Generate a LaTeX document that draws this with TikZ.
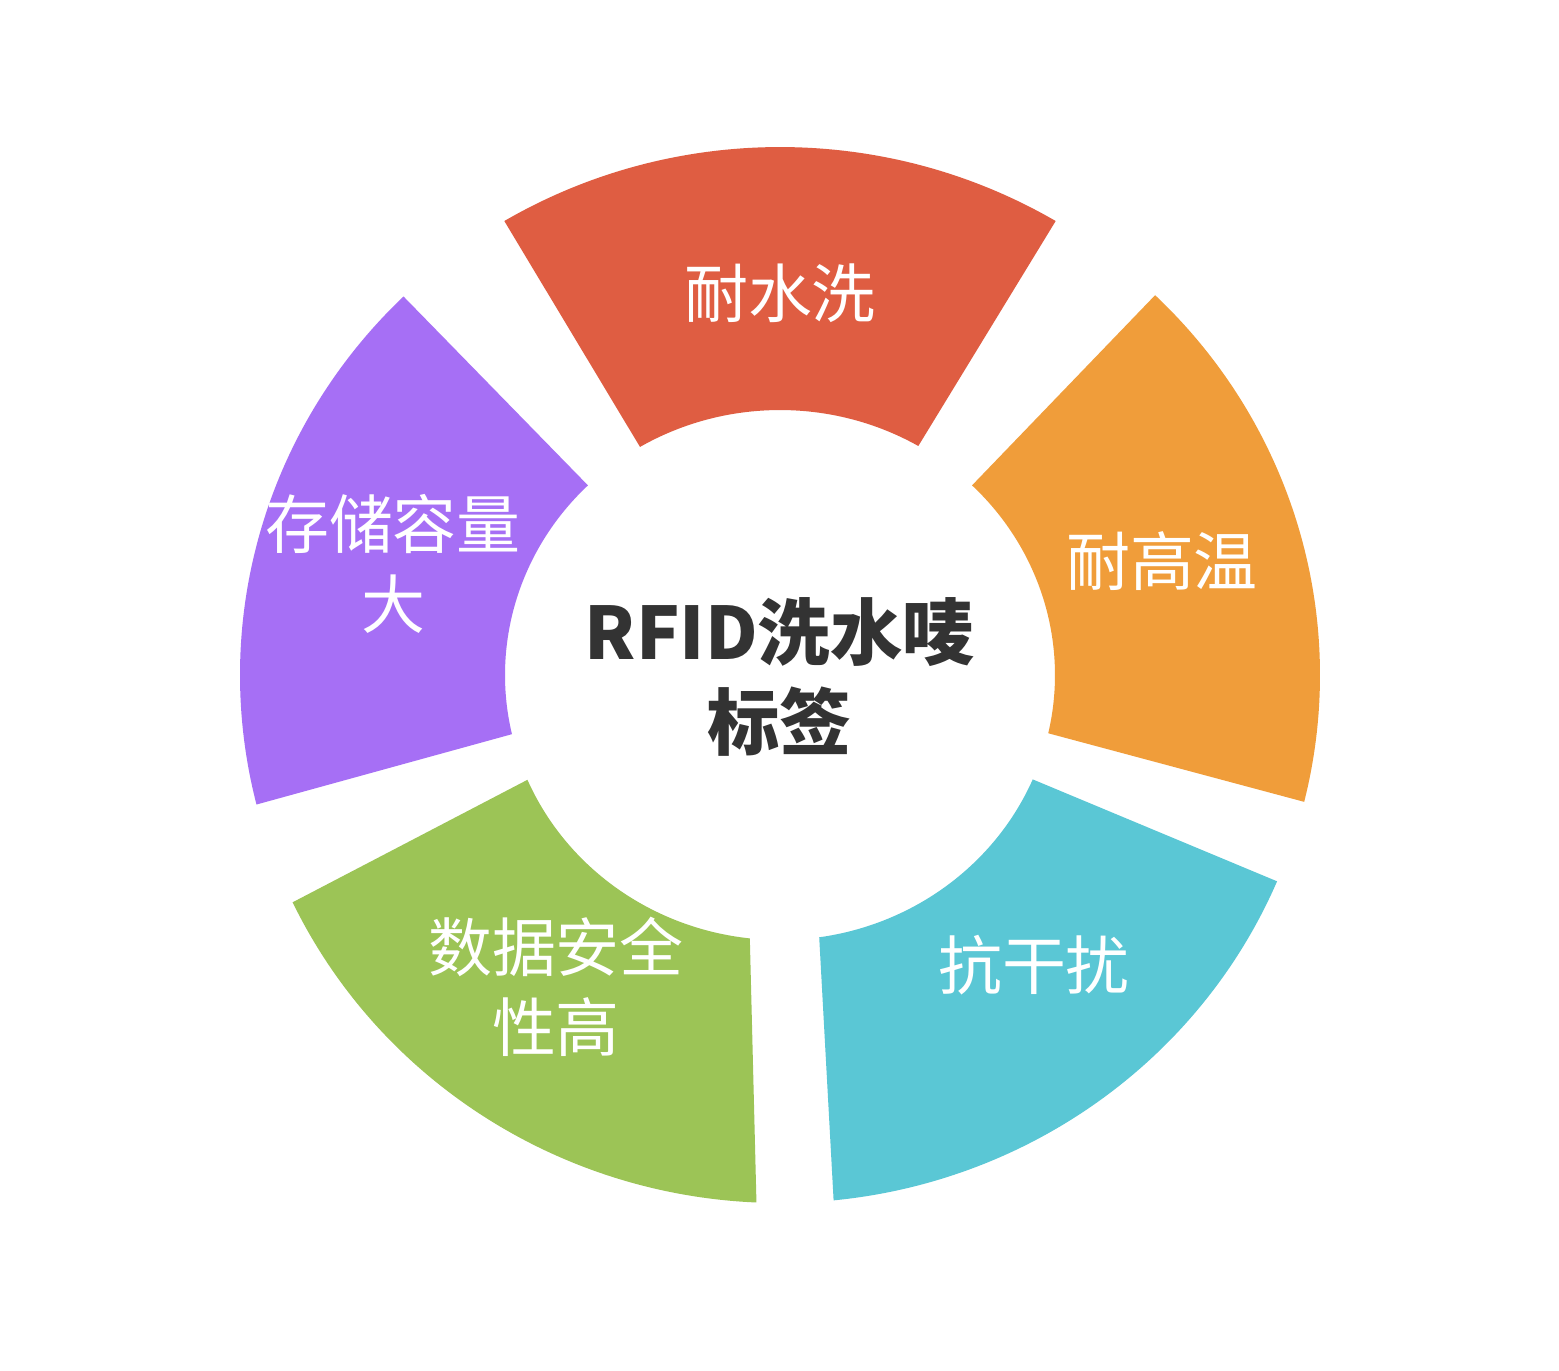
\documentclass[tikz,border=0pt]{standalone}
\usepackage{fontspec}
\newfontfamily\cjk{Noto Sans CJK SC}
\usepackage{tikz}
\usepackage{xcolor}

\definecolor{washred}{HTML}{DF5D42}
\definecolor{heatorange}{HTML}{F09D3A}
\definecolor{noisecyan}{HTML}{5AC7D5}
\definecolor{safegreen}{HTML}{9CC456}
\definecolor{storepurple}{HTML}{A66FF5}
\definecolor{hubgray}{HTML}{333333}

\tikzset{
  seglabel/.style={text=white, align=center, font=\cjk\fontsize{18.2}{22.7}\selectfont},
  hublabel/.style={text=hubgray, align=center, font=\cjk\bfseries\fontsize{20.6}{25.5}\selectfont}
}

\begin{document}
\begin{tikzpicture}
    \fill[white] (-7.80,-6.95) rectangle (7.79,6.75);
    \useasboundingbox (-7.80,-6.95) rectangle (7.79,6.75);
    % ring parts, outer 5.40/5.28, inner 2.75/2.65
    \fill[washred] (59.3:5.40 and 5.28) arc (59.3:120.7:5.40 and 5.28) -- (120.6:2.75 and 2.65) arc (120.6:59.8:2.75 and 2.65) -- cycle;
    \fill[heatorange] (-13.9:5.40 and 5.28) arc (-13.9:46:5.40 and 5.28) -- (45.7:2.75 and 2.65) arc (45.7:-12.7:2.75 and 2.65) -- cycle;
    \fill[noisecyan] (-84.3:5.40 and 5.28) arc (-84.3:-23:5.40 and 5.28) -- (-23.2:2.75 and 2.65) arc (-23.2:-81.8:2.75 and 2.65) -- cycle;
    \fill[safegreen] (205.5:5.40 and 5.28) arc (205.5:267.5:5.40 and 5.28) -- (263.7:2.75 and 2.65) arc (263.7:203.3:2.75 and 2.65) -- cycle;
    \fill[storepurple] (134.2:5.40 and 5.28) arc (134.2:194.2:5.40 and 5.28) -- (192.9:2.75 and 2.65) arc (192.9:134.3:2.75 and 2.65) -- cycle;
    \node[seglabel] (wash) at (0,3.82) {耐水洗};
    \node[seglabel] (heat) at (3.82,1.14) {耐高温};
    \node[seglabel] (noise) at (2.54,-2.90) {抗干扰};
    \node[seglabel] (safe) at (-2.24,-3.12) {数据安全\\性高};
    \node[seglabel] (store) at (-3.87,1.11) {存储容量\\大};
    \node[hublabel] (hub) at (0,-0.02) {RFID洗水唛\\标签};
\end{tikzpicture}
\end{document}
